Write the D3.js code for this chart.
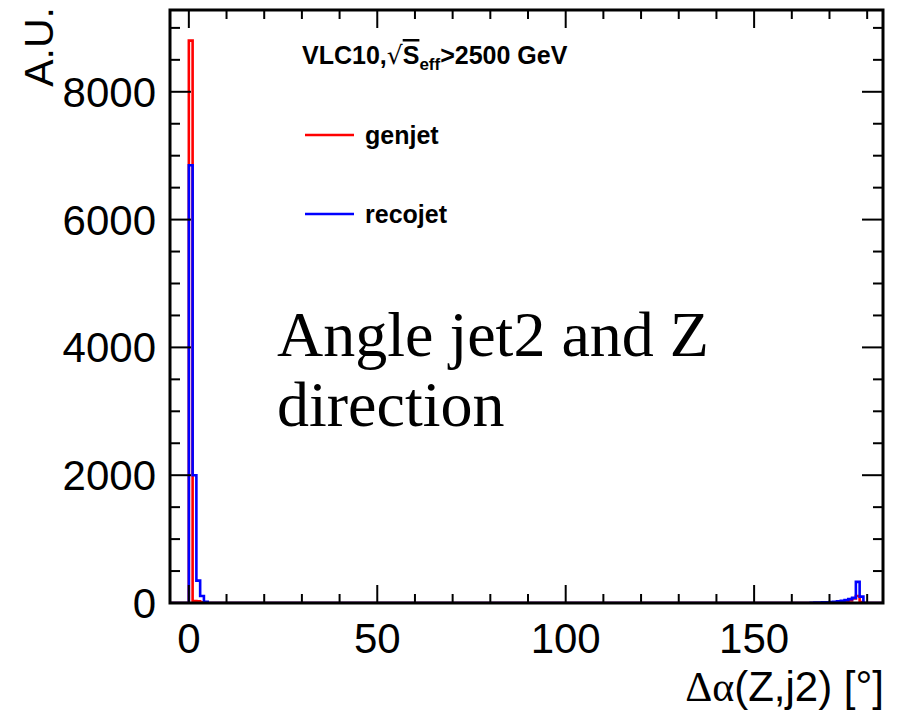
<!DOCTYPE html>
<html><head><meta charset="utf-8">
<script src="https://cdn.jsdelivr.net/npm/d3@7"></script>
<style>body{margin:0;background:#fff}svg{display:block}</style>
</head><body>
<script>
// ---- data ----
const binWidth = 1;            // degrees
const histStart = -5, histEnd = 184;
// non-zero bins near 0 degrees (bin lower edges)
const lowBins      = [0, 1, 2, 3, 4];
const genjetLow    = [8800, 30, 25, 10, 0];
const recojetLow   = [6850, 2000, 350, 110, 20];
// non-zero bins near 180 degrees
const highBins     = [165, 166, 167, 168, 169, 170, 171, 172, 173, 174, 175, 176, 177, 178];
const genjetHigh   = [0, 0, 0, 0, 0, 0, 0, 3, 8, 20, 40, 70, 110, 15];
const recojetHigh  = [5, 6, 8, 10, 12, 15, 20, 25, 35, 45, 60, 80, 330, 100];
const xTicks = [0, 50, 100, 150];
const yTicks = [0, 2000, 4000, 6000, 8000];
const seriesNames = ["genjet", "recojet"];
const seriesColors = ["#ff0000", "#0000ff"];

const W = 897, H = 713;
const pL = 170, pR = 883, pT = 10, pB = 603;
const x = d3.scaleLinear().domain([-5, 184.2]).range([pL, pR]);
const y = d3.scaleLinear().domain([0, 9280]).range([pB, pT]);

function buildHist(lb, lv, hb, hv) {
  const m = new Map();
  lb.forEach((b, i) => m.set(b, lv[i]));
  hb.forEach((b, i) => m.set(b, hv[i]));
  const out = [];
  for (let b = histStart; b < histEnd; b += binWidth) out.push({x0: b, x1: b + binWidth, v: m.get(b) || 0});
  return out;
}
const genjet = buildHist(lowBins, genjetLow, highBins, genjetHigh);
const recojet = buildHist(lowBins, recojetLow, highBins, recojetHigh);

const svg = d3.select("body").append("svg").attr("width", W).attr("height", H);
svg.append("clipPath").attr("id", "c").append("rect")
  .attr("x", pL).attr("y", pT).attr("width", pR - pL).attr("height", pB - pT);

function stepPath(h) {
  let p = `M${x(h[0].x0)},${y(0)}`;
  h.forEach(d => { p += `L${x(d.x0)},${y(d.v)}L${x(d.x1)},${y(d.v)}`; });
  p += `L${x(h[h.length-1].x1)},${y(0)}`;
  return p;
}
const g = svg.append("g").attr("clip-path", "url(#c)");
[genjet, recojet].forEach((h, i) => {
  g.append("path").attr("d", stepPath(h)).attr("fill", "none")
    .attr("stroke", seriesColors[i]).attr("stroke-width", 2.6).attr("stroke-linejoin", "miter");
});

// ticks (inside, ROOT style)
const tk = svg.append("g").attr("stroke", "#000").attr("stroke-width", 2);
const xMinor = d3.range(0, 184, 10).filter(v => v % 50 !== 0);
xMinor.forEach(v => {
  tk.append("line").attr("x1", x(v)).attr("x2", x(v)).attr("y1", pB).attr("y2", pB - 9);
  tk.append("line").attr("x1", x(v)).attr("x2", x(v)).attr("y1", pT).attr("y2", pT + 9);
});
xTicks.forEach(v => {
  tk.append("line").attr("x1", x(v)).attr("x2", x(v)).attr("y1", pB).attr("y2", pB - 18);
  tk.append("line").attr("x1", x(v)).attr("x2", x(v)).attr("y1", pT).attr("y2", pT + 18);
});
const yMinor = d3.range(500, 9280, 500).filter(v => v % 2000 !== 0);
yMinor.forEach(v => {
  tk.append("line").attr("x1", pL).attr("x2", pL + 10).attr("y1", y(v)).attr("y2", y(v));
  tk.append("line").attr("x1", pR).attr("x2", pR - 10).attr("y1", y(v)).attr("y2", y(v));
});
yTicks.forEach(v => {
  tk.append("line").attr("x1", pL).attr("x2", pL + 21).attr("y1", y(v)).attr("y2", y(v));
  tk.append("line").attr("x1", pR).attr("x2", pR - 21).attr("y1", y(v)).attr("y2", y(v));
});

// frame
svg.append("rect").attr("x", pL).attr("y", pT).attr("width", pR - pL).attr("height", pB - pT)
  .attr("fill", "none").attr("stroke", "#000").attr("stroke-width", 3);

const sans = "'Liberation Sans', Arial, Helvetica, sans-serif";
// tick labels
svg.selectAll(".xl").data(xTicks).enter().append("text")
  .attr("x", d => x(d)).attr("y", 653).attr("text-anchor", "middle")
  .attr("font-family", sans).attr("font-size", 42).text(d => d);
svg.selectAll(".yl").data(yTicks).enter().append("text")
  .attr("x", 156).attr("y", d => y(d) + 15).attr("text-anchor", "end")
  .attr("font-family", sans).attr("font-size", 42).text(d => d);

// axis titles
const xt = svg.append("text").attr("x", 884).attr("y", 701).attr("text-anchor", "end")
  .attr("font-family", sans).attr("font-size", 42);
xt.append("tspan").attr("font-family", "'Liberation Serif', 'DejaVu Serif', serif").text("Δα");
xt.append("tspan").text("(Z,j2) [°]");
svg.append("text").attr("transform", "translate(53,7) rotate(-90)").attr("text-anchor", "end")
  .attr("font-family", sans).attr("font-size", 41).text("A.U.");

// header
const hd = svg.append("text").attr("x", 302).attr("y", 64).attr("font-family", sans)
  .attr("font-weight", "bold").attr("font-size", 25);
hd.append("tspan").text("VLC10,");
hd.append("tspan").attr("font-weight", "normal").attr("font-family", "'DejaVu Sans', sans-serif").text("√");
hd.append("tspan").attr("text-decoration", "overline").text("S");
hd.append("tspan").attr("font-size", 17).attr("dy", 6).text("eff");
hd.append("tspan").attr("dy", -6).text(">2500 GeV");

// legend
const legY = [135, 214];
seriesNames.forEach((n, i) => {
  svg.append("line").attr("x1", 305).attr("x2", 354).attr("y1", legY[i]).attr("y2", legY[i])
    .attr("stroke", seriesColors[i]).attr("stroke-width", 2.6);
  svg.append("text").attr("x", 365).attr("y", legY[i] + 9).attr("font-family", sans)
    .attr("font-weight", "bold").attr("font-size", 25).text(n);
});

// annotation
const serif = "'Liberation Serif', 'Times New Roman', serif";
svg.append("text").attr("x", 277).attr("y", 356).attr("font-family", serif).attr("font-size", 64).text("Angle jet2 and Z");
svg.append("text").attr("x", 277).attr("y", 426).attr("font-family", serif).attr("font-size", 64).text("direction");
</script>
</body></html>
